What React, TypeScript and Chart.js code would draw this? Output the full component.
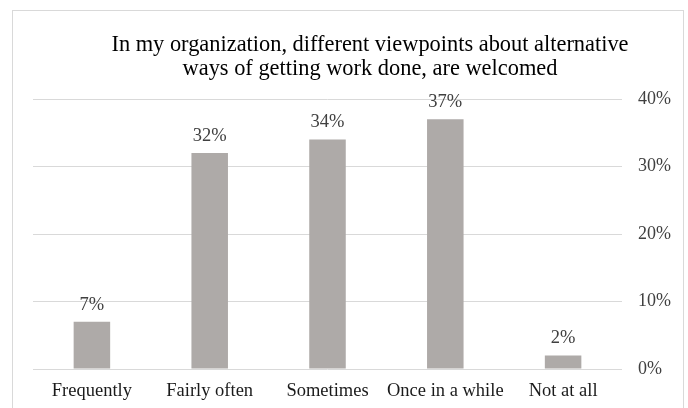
import React, { useEffect, useRef } from "react";
import { Chart, registerables } from "chart.js";

Chart.register(...registerables);

const categories = ["Frequently", "Fairly often", "Sometimes", "Once in a while", "Not at all"];
const values = [7, 32, 34, 37, 2];
const titleLines = [
  "In my organization, different viewpoints about alternative",
  "ways of getting work done, are welcomed",
];
const yTicks = [0, 10, 20, 30, 40];

const FONT = "'Liberation Serif', 'Times New Roman', serif";

const titlePlugin = {
  id: "customTitle",
  afterDraw(chart: any) {
    const ctx = chart.ctx;
    ctx.save();
    ctx.fillStyle = "#000000";
    ctx.font = `22.4px ${FONT}`;
    ctx.textAlign = "center";
    ctx.textBaseline = "middle";
    titleLines.forEach((line, i) => {
      ctx.fillText(line, 370, 45 + i * 24);
    });
    ctx.restore();
  },
};

const valueLabelPlugin = {
  id: "valueLabels",
  afterDatasetsDraw(chart: any) {
    const ctx = chart.ctx;
    const meta = chart.getDatasetMeta(0);
    ctx.save();
    ctx.fillStyle = "#404040";
    ctx.font = `18.5px ${FONT}`;
    ctx.textAlign = "center";
    ctx.textBaseline = "middle";
    meta.data.forEach((bar: any, i: number) => {
      ctx.fillText(values[i] + "%", bar.x, bar.y - 17);
    });
    ctx.restore();
  },
};

export default function App() {
  const ref = useRef<HTMLCanvasElement>(null);
  useEffect(() => {
    if (!ref.current) return;
    const chart = new Chart(ref.current, {
      type: "bar",
      data: {
        labels: categories,
        datasets: [
          {
            data: values,
            backgroundColor: "#aeaaa8",
            categoryPercentage: 1,
            barPercentage: 0.31,
          },
        ],
      },
      options: {
        animation: false,
        responsive: false,
        maintainAspectRatio: false,
        layout: { padding: { left: 33, top: 99, right: 0, bottom: 0 } },
        plugins: { legend: { display: false }, title: { display: false }, tooltip: { enabled: false } },
        scales: {
          x: {
            grid: { display: false, drawTicks: false },
            border: { display: false },
            ticks: { color: "#1a1a1a", font: { family: FONT, size: 18.5 }, padding: 11, maxRotation: 0, autoSkip: false },
            afterFit(scale: any) {
              scale.height = 39;
            },
          },
          y: {
            position: "right",
            min: 0,
            max: 40,
            afterBuildTicks(scale: any) {
              scale.ticks = yTicks.map((v) => ({ value: v }));
            },
            grid: { color: "#d9d9d9", lineWidth: 1, drawTicks: false },
            border: { display: false },
            ticks: {
              color: "#404040",
              font: { family: FONT, size: 18 },
              padding: 16,
              callback: (v: any) => v + "%",
            },
            afterFit(scale: any) {
              scale.width = 66;
            },
          },
        },
      },
      plugins: [titlePlugin, valueLabelPlugin],
    });
    return () => chart.destroy();
  }, []);
  return (
    <div style={{ position: "fixed", left: 0, top: 0, width: 688, height: 408, background: "#fff", overflow: "hidden" }}>
      <div
        style={{
          position: "absolute",
          left: 12,
          top: 10,
          width: 670,
          height: 420,
          border: "1px solid #d9d9d9",
        }}
      />
      <canvas ref={ref} width={688} height={408} style={{ position: "absolute", left: 0, top: 0 }} />
    </div>
  );
}
